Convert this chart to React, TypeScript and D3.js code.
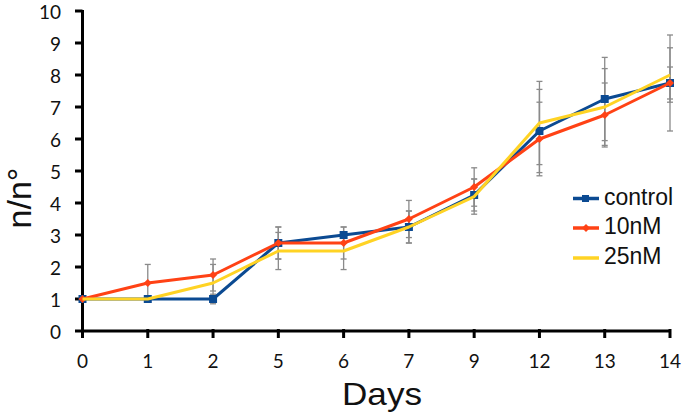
import React from "react";
import * as d3 from "d3";

const days = ["0", "1", "2", "5", "6", "7", "9", "12", "13", "14"];
const yTicks = [0, 1, 2, 3, 4, 5, 6, 7, 8, 9, 10];

const controlValues = [1, 1, 1, 2.75, 3, 3.25, 4.25, 6.25, 7.25, 7.75];
const nM10Values = [1, 1.5, 1.75, 2.75, 2.75, 3.5, 4.5, 6.0, 6.75, 7.75];
const nM25Values = [1, 1, 1.5, 2.5, 2.5, 3.25, 4.2, 6.5, 7.0, 8.0];

const controlErr = [0, 0, 0.15, 0.5, 0.25, 0.5, 0.5, 1.3, 1.3, 1.5];
const nM10Err = [0, 0.58, 0.5, 0.5, 0.5, 0.58, 0.6, 1.15, 1.0, 0.5];
const nM25Err = [0, 0, 0.58, 0.58, 0.58, 0.5, 0.55, 1.3, 1.2, 0.85];

const seriesNames = ["control", "10nM", "25nM"];

const W = 686;
const H = 419;

export default function App() {
  const x = d3.scalePoint<string>().domain(days).range([82.5, 670]);
  const y = d3.scaleLinear().domain([0, 10]).range([331, 11]);

  const series = [
    { name: seriesNames[0], values: controlValues, err: controlErr, color: "#0B4A92", marker: "square" },
    { name: seriesNames[1], values: nM10Values, err: nM10Err, color: "#FF4215", marker: "diamond" },
    { name: seriesNames[2], values: nM25Values, err: nM25Err, color: "#FFD324", marker: "none" },
  ];

  const line = d3
    .line<number>()
    .x((_, i) => x(days[i]) as number)
    .y((d) => y(d));

  const tickFont = "Lato, 'Noto Sans', sans-serif";
  const titleFont = "'Liberation Sans', Arial, sans-serif";

  return (
    <svg
      width={W}
      height={H}
      style={{ position: "absolute", left: 0, top: 0, background: "#fff" }}
    >
      <rect x={0} y={0} width={W} height={H} fill="#fff" />
      {/* error bars */}
      <g stroke="#8a8a8a" strokeWidth={1.3}>
        {series.map((s) =>
          s.values.map((v, i) => {
            const e = s.err[i];
            if (!e) return null;
            const cx = x(days[i]) as number;
            const y1 = y(v + e);
            const y2 = y(v - e);
            return (
              <g key={s.name + i}>
                <line x1={cx} x2={cx} y1={y1} y2={y2} />
                <line x1={cx - 3} x2={cx + 3} y1={y1} y2={y1} />
                <line x1={cx - 3} x2={cx + 3} y1={y2} y2={y2} />
              </g>
            );
          })
        )}
      </g>

      {/* axes */}
      <g stroke="#000" strokeWidth={3}>
        <line x1={82.5} x2={82.5} y1={y(10) - 1} y2={y(0) + 1.5} />
        <line x1={81} x2={671} y1={y(0)} y2={y(0)} />
        {yTicks.map((t) => (
          <line key={"yt" + t} x1={75} x2={82.5} y1={y(t)} y2={y(t)} />
        ))}
        {days.map((d) => (
          <line key={"xt" + d} x1={x(d) as number} x2={x(d) as number} y1={329} y2={338} />
        ))}
      </g>
      <g fontFamily={tickFont} fontSize={19} fill="#111">
        {yTicks.map((t) => (
          <text key={"yl" + t} x={61} y={y(t)} textAnchor="end" dominantBaseline="central">
            {t}
          </text>
        ))}
        {days.map((d) => (
          <text key={"xl" + d} x={x(d) as number} y={368} textAnchor="middle">
            {d}
          </text>
        ))}
      </g>

      {/* lines */}
      {series.map((s) => (
        <g key={s.name}>
          <path d={line(s.values) || ""} fill="none" stroke={s.color} strokeWidth={3} strokeLinejoin="round" />
          {s.values.map((v, i) => {
            const cx = x(days[i]) as number;
            const cy = y(v);
            if (s.marker === "square")
              return <rect key={i} x={cx - 4} y={cy - 4} width={8} height={8} fill={s.color} />;
            if (s.marker === "diamond")
              return (
                <path
                  key={i}
                  d={`M${cx},${cy - 4}L${cx + 4},${cy}L${cx},${cy + 4}L${cx - 4},${cy}Z`}
                  fill={s.color}
                />
              );
            return null;
          })}
        </g>
      ))}

      {/* legend */}
      {series.map((s, i) => {
        const ly = [198.5, 228, 258][i];
        return (
          <g key={"lg" + s.name}>
            <line x1={573} x2={599} y1={ly} y2={ly} stroke={s.color} strokeWidth={3.5} />
            {s.marker === "square" && <rect x={582} y={ly - 3.5} width={7} height={7} fill={s.color} />}
            {s.marker === "diamond" && (
              <path d={`M586,${ly - 4}L590,${ly}L586,${ly + 4}L582,${ly}Z`} fill={s.color} />
            )}
            <text x={604} y={ly + 6} fontFamily={titleFont} fontSize={23} fill="#111">
              {s.name}
            </text>
          </g>
        );
      })}

      {/* titles */}
      <text
        x={342}
        y={405}
        fontFamily={titleFont}
        fontSize={32}
        textLength={80}
        lengthAdjust="spacingAndGlyphs"
        fill="#111"
      >
        Days
      </text>
      <text
        transform="translate(31,198) rotate(-90)"
        textAnchor="middle"
        fontFamily={titleFont}
        fontSize={34}
        fill="#111"
      >
        n/n°
      </text>
    </svg>
  );
}
